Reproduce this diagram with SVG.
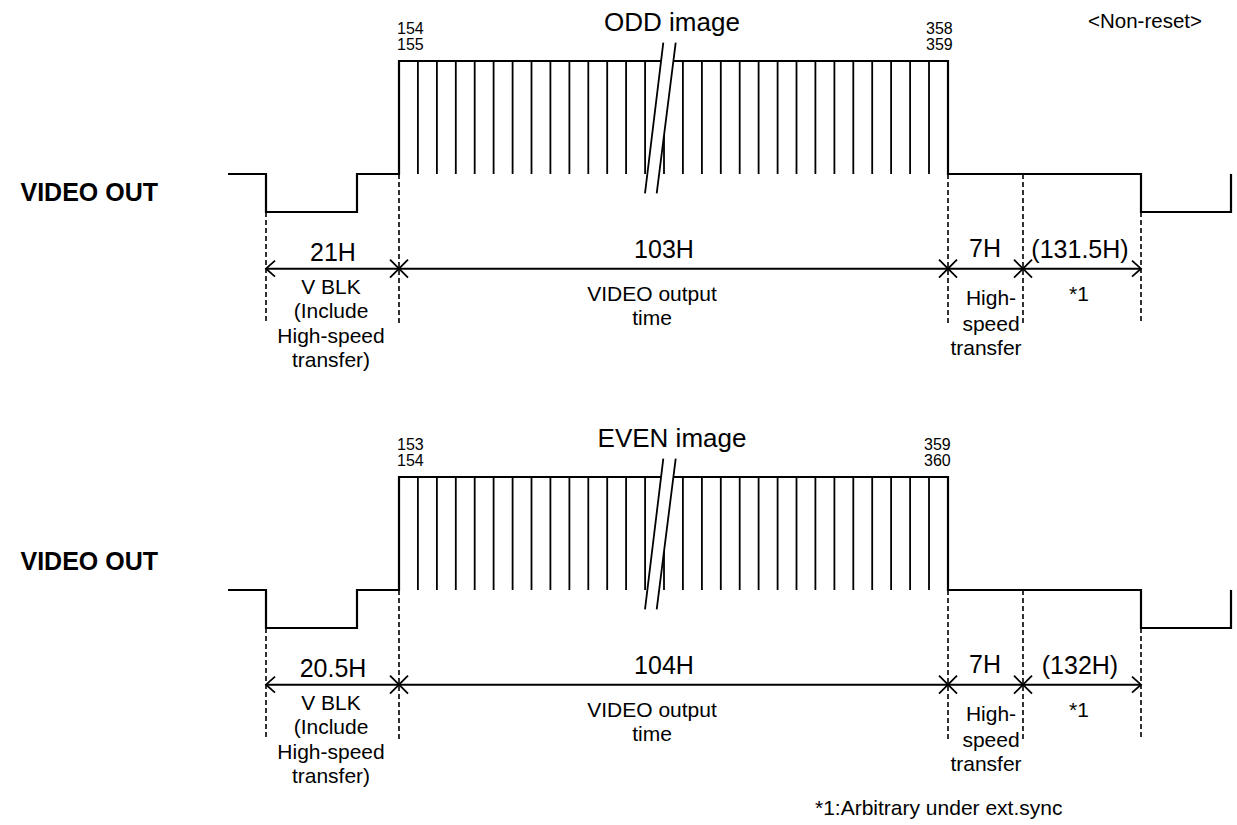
<svg xmlns="http://www.w3.org/2000/svg" width="1237" height="825" viewBox="0 0 1237 825">
<style>
text{font-family:"Liberation Sans",Arial,sans-serif;fill:#000}
.lbl{font-size:25px;font-weight:bold}
.big{font-size:25px;text-anchor:middle}
.sm{font-size:21px;text-anchor:middle}
.num{font-size:16px}
.wave{fill:none;stroke:#000;stroke-width:2.2}
.pl{fill:none;stroke:#000;stroke-width:1.8}
.dash{fill:none;stroke:#000;stroke-width:1.6;stroke-dasharray:5 3}
.dim{fill:none;stroke:#000;stroke-width:2}
.mk{fill:none;stroke:#000;stroke-width:1.8}
</style>
<defs>
<path id="ticks" class="pl" d="M417.9,61V174M436.9,61V174M455.8,61V174M474.7,61V174M493.6,61V174M512.6,61V174M531.5,61V174M550.4,61V174M569.4,61V174M588.3,61V174M607.2,61V174M626.1,61V174M645.1,61V174M664,61V174M682.9,61V174M701.9,61V174M720.8,61V174M739.7,61V174M758.6,61V174M777.6,61V174M796.5,61V174M815.4,61V174M834.4,61V174M853.3,61V174M872.2,61V174M891.1,61V174M910.1,61V174M929,61V174"/>
<path id="xm" class="mk" d="M-9,-9L9,9M-9,9L9,-9"/>
<path id="al" class="mk" d="M9,-8L0,0L9,8"/>
<path id="ar" class="mk" d="M-9,-8L0,0L-9,8"/>
</defs>

<g id="top-diagram">
  <g id="top-waveform">
    <path class="wave" d="M228,174H266V212H357V174H399V61H948V174H1141V212H1231V174"/>
    <use href="#ticks"/>
    <polygon points="663.3,42.7 675.7,42.7 656.7,193.3 645,193.3" fill="#fff"/>
    <path class="pl" d="M663.3,42.7L645,193.3M675.7,42.7L656.7,193.3"/>
  </g>
  <g id="top-labels">
    <text class="lbl" x="158" y="201" text-anchor="end">VIDEO OUT</text>
    <text class="num" x="397" y="34">154</text>
    <text class="num" x="397" y="50">155</text>
    <text class="num" x="926" y="34">358</text>
    <text class="num" x="926" y="50">359</text>
    <text x="672" y="31" font-size="26" text-anchor="middle">ODD image</text>
    <text x="1145" y="28" font-size="20.5" text-anchor="middle">&lt;Non-reset&gt;</text>
  </g>
  <g id="top-connectors">
    <path class="dash" d="M266,212V322M399,174V324M948,174V323M1023,174V323M1141,212V322"/>
    <path class="dim" d="M266,268.7H1141"/>
    <use href="#al" x="266" y="268.7"/>
    <use href="#xm" x="399" y="268.7"/>
    <use href="#xm" x="948" y="268.7"/>
    <use href="#xm" x="1023" y="268.7"/>
    <use href="#ar" x="1141" y="268.7"/>
  </g>
  <g id="top-dims">
    <text class="big" x="333" y="261">21H</text>
    <text class="sm" x="331" y="294">V BLK</text>
    <text class="sm" x="331" y="318">(Include</text>
    <text class="sm" x="331" y="343">High-speed</text>
    <text class="sm" x="331" y="367">transfer)</text>
    <text class="big" x="664" y="258">103H</text>
    <text class="sm" x="652" y="301">VIDEO output</text>
    <text class="sm" x="652" y="325">time</text>
    <text class="big" x="985" y="257">7H</text>
    <text class="sm" x="991" y="305">High-</text>
    <text class="sm" x="991" y="331">speed</text>
    <text class="sm" x="986" y="355">transfer</text>
    <text class="big" x="1080" y="258">(131.5H)</text>
    <text class="sm" x="1079" y="301">*1</text>
  </g>
</g>

<g id="bottom-diagram">
  <g id="bottom-waveform" transform="translate(0,416)">
    <path class="wave" d="M228,174H266V212H357V174H399V61H948V174H1141V212H1231V174"/>
    <use href="#ticks"/>
    <polygon points="663.3,42.7 675.7,42.7 656.7,193.3 645,193.3" fill="#fff"/>
    <path class="pl" d="M663.3,42.7L645,193.3M675.7,42.7L656.7,193.3"/>
  </g>
  <g id="bottom-labels">
    <text class="lbl" x="158" y="570" text-anchor="end">VIDEO OUT</text>
    <text class="num" x="397" y="450">153</text>
    <text class="num" x="397" y="466">154</text>
    <text class="num" x="924" y="450">359</text>
    <text class="num" x="924" y="466">360</text>
    <text x="672" y="447" font-size="26" text-anchor="middle">EVEN image</text>
  </g>
  <g id="bottom-connectors" transform="translate(0,416)">
    <path class="dash" d="M266,212V322M399,174V324M948,174V323M1023,174V323M1141,212V322"/>
    <path class="dim" d="M266,268.7H1141"/>
    <use href="#al" x="266" y="268.7"/>
    <use href="#xm" x="399" y="268.7"/>
    <use href="#xm" x="948" y="268.7"/>
    <use href="#xm" x="1023" y="268.7"/>
    <use href="#ar" x="1141" y="268.7"/>
  </g>
  <g id="bottom-dims" transform="translate(0,416)">
    <text class="big" x="333" y="261">20.5H</text>
    <text class="sm" x="331" y="294">V BLK</text>
    <text class="sm" x="331" y="318">(Include</text>
    <text class="sm" x="331" y="343">High-speed</text>
    <text class="sm" x="331" y="367">transfer)</text>
    <text class="big" x="664" y="258">104H</text>
    <text class="sm" x="652" y="301">VIDEO output</text>
    <text class="sm" x="652" y="325">time</text>
    <text class="big" x="985" y="257">7H</text>
    <text class="sm" x="991" y="305">High-</text>
    <text class="sm" x="991" y="331">speed</text>
    <text class="sm" x="986" y="355">transfer</text>
    <text class="big" x="1080" y="258">(132H)</text>
    <text class="sm" x="1079" y="301">*1</text>
  </g>
</g>

<text id="footnote" x="815" y="815" font-size="21">*1:Arbitrary under ext.sync</text>
</svg>
